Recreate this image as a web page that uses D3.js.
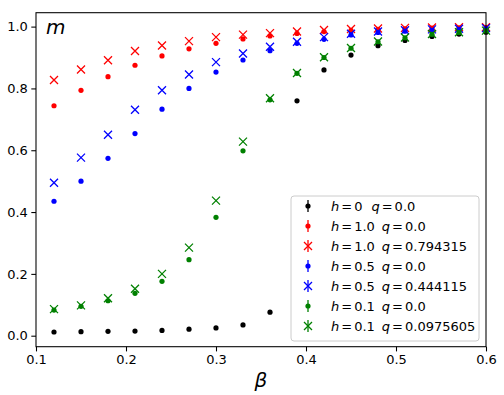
<!DOCTYPE html>
<html><head><meta charset="utf-8">
<script src="https://cdn.jsdelivr.net/npm/d3@7/dist/d3.min.js"></script>
<style>
html,body{margin:0;padding:0;background:#fff;}
text{font-family:"DejaVu Sans",sans-serif;}
</style></head>
<body><svg id="chart" width="504" height="395"></svg>
<script>
const beta = [0.12,0.15,0.18,0.21,0.24,0.27,0.30,0.33,0.36,0.39,0.42,0.45,0.48,0.51,0.54,0.57,0.60];
const m_h0_q0    = [0.012,0.013,0.014,0.015,0.017,0.021,0.025,0.035,0.076,0.760,0.860,0.908,0.938,0.955,0.968,0.976,0.982];
const m_h1_q0    = [0.744,0.794,0.838,0.875,0.905,0.928,0.946,0.960,0.970,0.978,0.984,0.988,0.991,0.993,0.995,0.996,0.997];
const m_h1_q     = [0.827,0.861,0.891,0.921,0.939,0.953,0.966,0.974,0.979,0.984,0.989,0.992,0.994,0.996,0.997,0.998,0.998];
const m_h05_q0   = [0.435,0.500,0.574,0.654,0.733,0.800,0.853,0.892,0.922,0.946,0.959,0.973,0.981,0.985,0.988,0.991,0.993];
const m_h05_q    = [0.495,0.576,0.650,0.731,0.794,0.845,0.885,0.913,0.935,0.951,0.966,0.977,0.984,0.988,0.991,0.993,0.995];
const m_h01_q0   = [0.083,0.095,0.113,0.137,0.176,0.246,0.383,0.598,0.763,0.849,0.900,0.930,0.951,0.964,0.975,0.981,0.986];
const m_h01_q    = [0.086,0.098,0.121,0.152,0.200,0.285,0.437,0.628,0.768,0.850,0.901,0.931,0.952,0.965,0.976,0.982,0.987];
const xTicks = [0.1,0.2,0.3,0.4,0.5,0.6];
const yTicks = [0.0,0.2,0.4,0.6,0.8,1.0];

const series = [
  {y:m_h0_q0,  color:"#000000", marker:"o", h:"0",   q:"0.0"},
  {y:m_h1_q0,  color:"#ff0000", marker:"o", h:"1.0", q:"0.0"},
  {y:m_h1_q,   color:"#ff0000", marker:"x", h:"1.0", q:"0.794315"},
  {y:m_h05_q0, color:"#0000ff", marker:"o", h:"0.5", q:"0.0"},
  {y:m_h05_q,  color:"#0000ff", marker:"x", h:"0.5", q:"0.444115"},
  {y:m_h01_q0, color:"#008000", marker:"o", h:"0.1", q:"0.0"},
  {y:m_h01_q,  color:"#008000", marker:"x", h:"0.1", q:"0.0975605"}
];

const L=36, R=486, T=12.7, B=346.7;
const svg = d3.select("#chart");
const x = d3.scaleLinear().domain([0.1,0.6]).range([L,R]);
const y = d3.scaleLinear().domain([-0.0356,1.045]).range([B,T]);

const fs = 13;
const xAxis = svg.append("g").attr("transform",`translate(0,${B})`)
  .call(d3.axisBottom(x).tickValues(xTicks).tickFormat(d3.format(".1f")).tickSize(4.7).tickPadding(3.5));
const yAxis = svg.append("g").attr("transform",`translate(${L},0)`)
  .call(d3.axisLeft(y).tickValues(yTicks).tickFormat(d3.format(".1f")).tickSize(4.7).tickPadding(3.5));
[xAxis,yAxis].forEach(g=>{
  g.select(".domain").remove();
  g.selectAll("line").attr("stroke","#000").attr("stroke-width",1.07);
  g.selectAll("text").attr("font-family","DejaVu Sans").attr("font-size",fs).attr("fill","#000");
});

const plot = svg.append("g");
function drawMarker(g, cx, cy, s){
  if(s.marker==="o"){
    g.append("circle").attr("cx",cx).attr("cy",cy).attr("r",2.6).attr("fill",s.color);
  } else {
    const d=4;
    g.append("path").attr("d",`M${cx-d},${cy-d}L${cx+d},${cy+d}M${cx-d},${cy+d}L${cx+d},${cy-d}`)
      .attr("stroke",s.color).attr("stroke-width",1.3).attr("fill","none");
  }
}
series.forEach(s=>{
  const g = plot.append("g");
  beta.forEach((b,i)=>drawMarker(g, x(b), y(s.y[i]), s));
});

// frame
svg.append("rect").attr("x",L).attr("y",T).attr("width",R-L).attr("height",B-T)
  .attr("fill","none").attr("stroke","#000").attr("stroke-width",1.07);

// axis labels
svg.append("text").attr("x",(L+R)/2).attr("y",387).attr("text-anchor","middle")
  .attr("font-size",20).attr("font-style","italic").text("β");
svg.append("text").attr("x",46).attr("y",34)
  .attr("font-size",20).attr("font-style","italic").text("m");

// legend
const lg = svg.append("g");
lg.append("rect").attr("x",291).attr("y",196).attr("width",188).attr("height",145)
  .attr("rx",3).attr("fill","#fff").attr("fill-opacity",0.8).attr("stroke","#ccc").attr("stroke-width",1);
series.forEach((s,i)=>{
  const cy = 206 + i*20, cx = 308;
  lg.append("line").attr("x1",cx).attr("x2",cx).attr("y1",cy-6).attr("y2",cy+6)
    .attr("stroke",s.color).attr("stroke-width",1.3);
  drawMarker(lg, cx, cy, s);
  const t = lg.append("text").attr("x",331).attr("y",cy+4.6).attr("font-size",fs);
  t.append("tspan").attr("font-style","italic").text("h");
  t.append("tspan").attr("dx",2).text("=");
  t.append("tspan").attr("dx",2).text(s.h);
  t.append("tspan").attr("dx",s.h==="0"?9:7).attr("font-style","italic").text("q");
  t.append("tspan").attr("dx",2).text("=");
  t.append("tspan").attr("dx",2).text(s.q);
});
</script></body></html>
